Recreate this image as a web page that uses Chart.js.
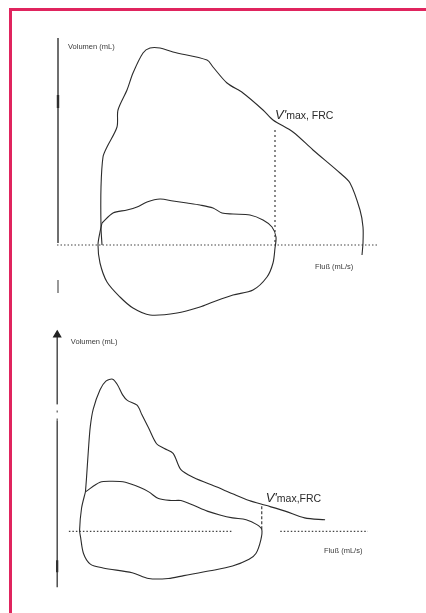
<!DOCTYPE html>
<html>
<head>
<meta charset="utf-8">
<script src="https://cdn.jsdelivr.net/npm/chart.js@4.4.1/dist/chart.umd.min.js"></script>
<style>
  html, body { margin: 0; padding: 0; background: #fff; }
  body { width: 426px; height: 613px; position: relative; overflow: hidden; }
  .frame { position: absolute; left: 9px; top: 8px; width: 417px; height: 605px;
           border-top: 3px solid #e0245e; border-left: 3px solid #e0245e; box-sizing: border-box; }
  .panel { position: absolute; left: 10px; width: 410px; }
  #top { top: 10px; height: 310px; }
  #bottom { top: 320px; height: 285px; }
</style>
</head>
<body>
<div class="frame"></div>
<div class="panel" id="top"><canvas id="c1"></canvas></div>
<div class="panel" id="bottom"><canvas id="c2"></canvas></div>
<script>
// Upper loop: normal flow-volume loop (flow in mL/s, volume in mL)
const topExpFlow = [220, 215, 215, 225, 245, 295, 300, 345, 375, 425, 460, 510, 575, 745, 775, 845, 925, 1025, 1075, 1175, 1275, 1410, 1460, 1510, 1525, 1525, 1520];
const topExpVol  = [0, 72, 232, 352, 392, 472, 540, 620, 688, 768, 788, 788, 772, 740, 712, 648, 608, 540, 500, 452, 380, 288, 248, 140, 72, 8, -40];
const topTidalFlow = [220, 275, 345, 395, 445, 510, 575, 645, 710, 775, 820, 875, 960, 1025, 1070, 1090, 1085, 1075, 1045, 975, 875, 775, 710, 595, 460, 375, 310, 245, 210, 200, 210, 220];
const topTidalVol  = [88, 128, 140, 152, 172, 184, 176, 168, 160, 148, 128, 124, 120, 100, 72, 32, -12, -72, -128, -180, -200, -228, -248, -272, -280, -252, -208, -148, -72, 0, 52, 88];
const topVmaxFlow = 1085;
const topVmaxVol = [460, 0];

// Lower loop: obstructed flow-volume loop
const botExpFlow = [145, 150, 160, 170, 185, 220, 250, 285, 310, 335, 360, 410, 435, 470, 510, 550, 595, 635, 700, 820, 900, 985, 1070, 1170, 1270, 1375];
const botExpVol  = [164, 216, 336, 436, 508, 588, 624, 632, 608, 568, 544, 524, 484, 428, 364, 344, 324, 256, 224, 184, 156, 128, 108, 84, 56, 48];
const botTidalFlow = [145, 220, 285, 350, 420, 470, 520, 585, 635, 700, 770, 835, 900, 970, 1025, 1050, 1045, 1020, 985, 900, 785, 650, 570, 470, 385, 235, 170, 135, 120, 115, 125, 145];
const botTidalVol  = [164, 204, 208, 204, 184, 164, 136, 128, 128, 108, 84, 68, 56, 48, 28, 8, -36, -92, -116, -144, -164, -184, -196, -196, -172, -152, -136, -92, -24, 4, 96, 164];
const botVmaxFlow = 1050;
const botVmaxVol = [104, 8];

const volumeLabel = 'Volumen (mL)';
const flowLabel = 'Fluß (mL/s)';

const ink = '#2b2b2b';
const pts = (xs, ys) => xs.map((x, i) => ({ x, y: ys[i] }));

// draws the axis captions and the V'max,FRC marker text at data positions
const textPlugin = {
  id: 'panelText',
  afterDatasetsDraw(chart) {
    const items = chart.options.plugins.panelText.items || [];
    const { ctx, scales: { x, y } } = chart;
    ctx.save();
    ctx.textBaseline = 'middle';
    items.forEach(it => {
      let px = x.getPixelForValue(it.x);
      const py = y.getPixelForValue(it.y);
      it.parts.forEach(p => {
        ctx.font = p.font;
        ctx.fillStyle = p.color || '#333';
        ctx.fillText(p.text, px, py + (p.dy || 0));
        px += ctx.measureText(p.text).width;
      });
    });
    ctx.restore();
  }
};

function line(data, opts) {
  return Object.assign({
    data, showLine: true, borderColor: ink, borderWidth: 1.1,
    pointRadius: 0, tension: 0.3, fill: false
  }, opts || {});
}

function makeChart(id, datasets, xr, yr, items) {
  return new Chart(document.getElementById(id), {
    type: 'scatter',
    data: { datasets },
    options: {
      responsive: true, maintainAspectRatio: false, animation: false,
      layout: { padding: 0 },
      scales: {
        x: { type: 'linear', min: xr[0], max: xr[1], display: false },
        y: { type: 'linear', min: yr[0], max: yr[1], display: false }
      },
      plugins: { legend: { display: false }, tooltip: { enabled: false }, panelText: { items } }
    },
    plugins: [textPlugin]
  });
}

const vmaxParts = (sep) => [
  { text: "V'", font: 'italic 13px "Liberation Sans", Arial, sans-serif', color: '#2b2b2b' },
  { text: 'max' + sep + 'FRC', font: '10.5px "Liberation Sans", Arial, sans-serif', color: '#2b2b2b', dy: 1 }
];
const small = '7.5px "Liberation Sans", Arial, sans-serif';

makeChart('c1', [
  line(pts(topExpFlow, topExpVol)),
  line(pts(topTidalFlow, topTidalVol)),
  line(pts([topVmaxFlow, topVmaxFlow], topVmaxVol), { borderDash: [2, 3], tension: 0 }),
  line(pts([0, 0], [828, 8]), { borderColor: '#333', borderWidth: 1.4, tension: 0 }),
  line(pts([0, 0], [600, 548]), { borderColor: '#222', borderWidth: 2.4, tension: 0 }),
  line(pts([0, 0], [-140, -192]), { borderColor: '#555', borderWidth: 1.2, tension: 0 }),
  line(pts([-5, 1595], [0, 0]), { borderDash: [1.5, 2], borderColor: '#444', tension: 0 })
], [-240, 1810], [-300, 940], [
  { x: 50, y: 792, parts: [{ text: volumeLabel, font: small, color: '#3a3a3a' }] },
  { x: 1085, y: 520, parts: vmaxParts(', ') },
  { x: 1285, y: -88, parts: [{ text: flowLabel, font: small, color: '#3a3a3a' }] }
]);

makeChart('c2', [
  line(pts(botExpFlow, botExpVol)),
  line(pts(botTidalFlow, botTidalVol)),
  line(pts([botVmaxFlow, botVmaxFlow], botVmaxVol), { borderDash: [3, 2], tension: 0 }),
  line(pts([0, 0], [-232, 460]), { borderColor: '#333', borderWidth: 1.3, tension: 0 }),
  line(pts([0, 0], [460, 528]), { borderColor: '#555', borderWidth: 1.2, borderDash: [2, 6], tension: 0 }),
  line(pts([0, 0], [528, 816]), { borderColor: '#333', borderWidth: 1.3, tension: 0,
    pointRadius: [0, 4], pointStyle: 'triangle', pointBackgroundColor: '#222', pointBorderColor: '#222' }),
  line(pts([0, 0], [-120, -170]), { borderColor: '#222', borderWidth: 2.2, tension: 0 }),
  line(pts([60, 900], [0, 0]), { borderDash: [1.5, 2], borderColor: '#444', tension: 0 }),
  line(pts([1145, 1595], [0, 0]), { borderDash: [1.5, 2], borderColor: '#444', tension: 0 })
], [-215, 1835], [-284, 856], [
  { x: 70, y: 788, parts: [{ text: volumeLabel, font: small, color: '#3a3a3a' }] },
  { x: 1070, y: 136, parts: vmaxParts(',') },
  { x: 1370, y: -80, parts: [{ text: flowLabel, font: small, color: '#3a3a3a' }] }
]);
</script>
</body>
</html>
